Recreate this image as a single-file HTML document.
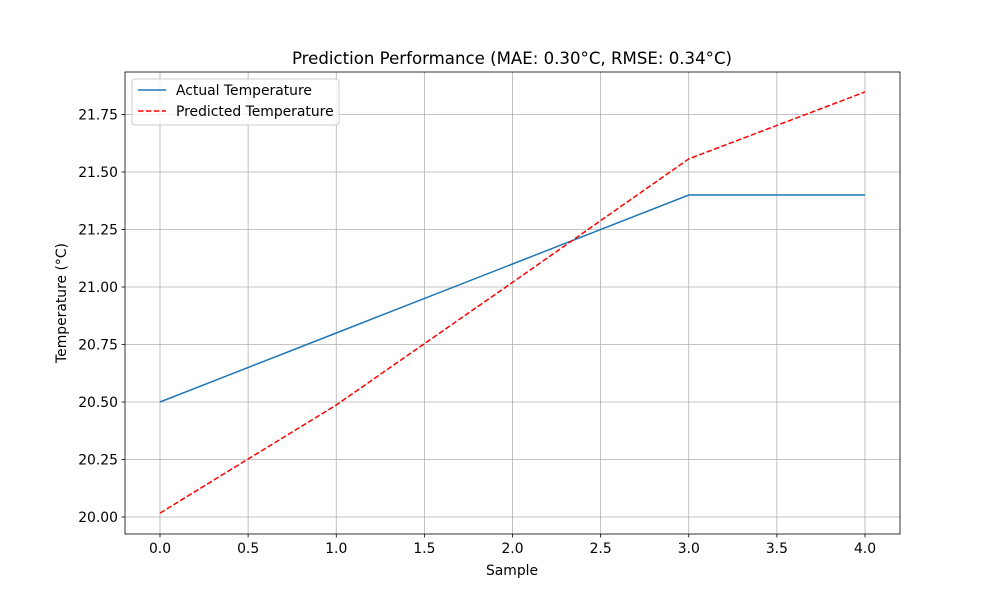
<!DOCTYPE html>
<html><head><meta charset="utf-8"><style>body{margin:0;background:#fff}svg text{font-family:"DejaVu Sans","Liberation Sans",sans-serif}</style></head>
<body>
<svg id="chart" width="1000" height="600" xmlns="http://www.w3.org/2000/svg"></svg>
<script>
const xTicks=[0,0.5,1,1.5,2,2.5,3,3.5,4];
const yTicks=[20.00,20.25,20.50,20.75,21.00,21.25,21.50,21.75];
const samples=[0,1,2,3,4];
const actual=[20.5,20.8,21.1,21.4,21.4];
const predicted=[20.017,20.487,21.02,21.557,21.848];
const svg=document.getElementById('chart');
const NS='http://www.w3.org/2000/svg';
const L=125,R=900,T=72,B=534;
const xs=v=>160+v*176.25;
const ys=v=>517-(v-20)*230;
function mk(tag,attrs,name,txt){const e=document.createElementNS(NS,tag);for(const k in attrs)e.setAttribute(k,attrs[k]);


if(txt!==undefined)e.textContent=txt;svg.appendChild(e);return e;}
xTicks.forEach(t=>{const x=xs(t);
mk('line',{x1:x,x2:x,y1:T,y2:B,stroke:'#b0b0b0','stroke-width':0.8},'x-gridline');
mk('line',{x1:x,x2:x,y1:B,y2:B+3.5,stroke:'#000','stroke-width':0.8},'x-tick');
mk('text',{x:x,y:B+19,'font-size':13.9,'text-anchor':'middle'},'x-tick-label',t.toFixed(1));});
yTicks.forEach(t=>{const y=ys(t);
mk('line',{x1:L,x2:R,y1:y,y2:y,stroke:'#b0b0b0','stroke-width':0.8},'y-gridline');
mk('line',{x1:L-3.5,x2:L,y1:y,y2:y,stroke:'#000','stroke-width':0.8},'y-tick');
mk('text',{x:L-7,y:y+5,'font-size':13.9,'text-anchor':'end'},'y-tick-label',t.toFixed(2));});
mk('polyline',{points:samples.map((s,i)=>xs(s)+','+ys(actual[i])).join(' '),fill:'none',stroke:'#1f77b4','stroke-width':1.5},'actual-line');
mk('polyline',{points:samples.map((s,i)=>xs(s)+','+ys(predicted[i])).join(' '),fill:'none',stroke:'#ff0000','stroke-width':1.5,'stroke-dasharray':'5.5,2.4'},'predicted-line');
mk('rect',{x:L,y:T,width:R-L,height:B-T,fill:'none',stroke:'#000','stroke-width':0.8},'plot-frame');
mk('text',{x:512,y:64,'font-size':16.6,'text-anchor':'middle'},'chart-title','Prediction Performance (MAE: 0.30°C, RMSE: 0.34°C)');
mk('text',{x:512,y:575,'font-size':13.9,'text-anchor':'middle'},'x-axis-title','Sample');
mk('text',{x:66,y:303,'font-size':13.9,'text-anchor':'middle',transform:'rotate(-90 66 303)'},'y-axis-title','Temperature (°C)');
mk('rect',{x:132,y:79,width:207,height:46,rx:3,fill:'#fff','fill-opacity':0.8,stroke:'#ccc'},'legend-box');
mk('line',{x1:138,x2:166,y1:90,y2:90,stroke:'#1f77b4','stroke-width':1.5},'legend-actual-swatch');
mk('text',{x:176,y:95,'font-size':13.9},'legend-actual-label','Actual Temperature');
mk('line',{x1:138,x2:166,y1:111,y2:111,stroke:'#ff0000','stroke-width':1.5,'stroke-dasharray':'5.5,2.4'},'legend-predicted-swatch');
mk('text',{x:176,y:116,'font-size':13.9},'legend-predicted-label','Predicted Temperature');
</script>
</body></html>
